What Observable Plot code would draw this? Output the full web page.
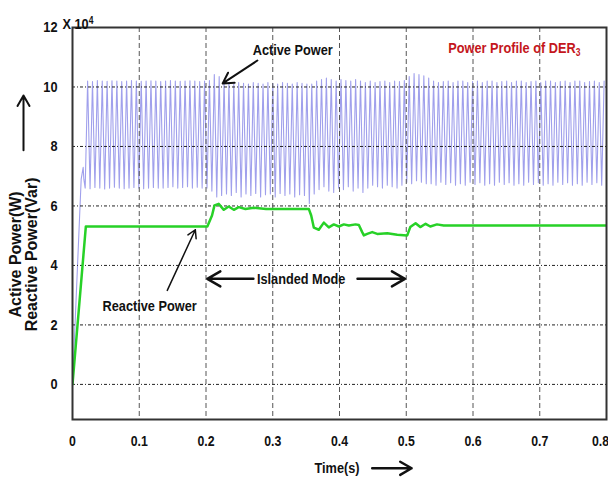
<!DOCTYPE html>
<html>
<head>
<meta charset="utf-8">
<script src="https://cdn.jsdelivr.net/npm/d3@7"></script>
<script src="https://cdn.jsdelivr.net/npm/@observablehq/plot@0.6"></script>
<style>
  html, body { margin: 0; padding: 0; background: #fff; }
  #chart { width: 608px; height: 484px; }
</style>
</head>
<body>
<div id="chart"></div>
<script>
// ---- data (×10^4) ----
const xTicks = [0, 0.1, 0.2, 0.3, 0.4, 0.5, 0.6, 0.7, 0.8];
const yTicks = [0, 2, 4, 6, 8, 10, 12];

// Active power: start-up ramp, then one trough + one peak per displayed cycle
const activeStartT = [0, 0.013, 0.016, 0.017];
const activeStartV = [0, 6.9, 7.3, 6.9];
const cycleStart = 0.019;
const cyclePeriod = 0.0073;
const activePeak = [
  10.2,10.18,10.22,10.2,10.19,10.21,10.2,10.18,10.2,10.22,10.2,10.19,10.2,10.21,10.2,10.18,10.2,10.22,10.2,10.19,10.2,10.21,10.2,10.18,10.2,
  10.22,10.42,10.35,10.2,
  10.15,10.1,10.15,10.12,10.1,10.15,10.12,10.1,10.15,10.12,10.1,10.15,10.12,10.1,10.15,10.12,10.1,
  10.1,10.2,
  10.25,10.3,10.25,10.2,10.25,10.22,10.2,10.25,10.2,
  10.15,10.2,10.15,10.18,10.2,10.15,10.2,10.18,10.22,
  10.35,10.45,10.42,10.38,10.3,
  10.2,10.15,10.18,10.2,10.15,10.2,10.2,10.15,10.18,10.2,10.15,10.2,
  10.2,10.15,10.18,10.2,10.15,10.2,10.2,10.15,10.18,10.2,10.15,10.2,
  10.2,10.15,10.18,10.2,10.15,10.2,10.2,10.15,10.18,10.2,10.15,10.2
];
const activeTrough = [
  6.6,6.58,6.62,6.6,6.57,6.6,6.63,6.6,6.58,6.6,6.62,6.6,6.58,6.6,6.62,6.6,6.6,6.62,6.65,6.6,6.62,6.65,6.6,6.63,6.6,
  6.6,6.5,6.3,6.35,
  6.4,6.35,6.45,6.3,6.4,6.35,6.42,6.3,6.38,6.4,6.3,6.42,6.35,6.4,6.3,6.38,6.35,
  6.08,6.4,
  6.55,6.65,6.5,6.45,6.6,6.55,6.65,6.5,6.6,
  6.45,6.6,6.7,6.65,6.6,6.7,6.65,6.6,6.7,
  6.8,6.75,6.85,6.8,6.75,
  6.75,6.7,6.8,6.72,6.78,6.7,6.75,6.7,6.8,6.72,6.78,6.7,
  6.75,6.7,6.8,6.72,6.78,6.7,6.75,6.7,6.8,6.72,6.78,6.7,
  6.75,6.7,6.8,6.72,6.78,6.7,6.75,6.7,6.8,6.72,6.78,6.7
];

// Reactive power
const reactiveT = [0, 0.02, 0.202, 0.209, 0.2127, 0.219, 0.2267, 0.234, 0.2417, 0.249, 0.259, 0.2716, 0.29, 0.32, 0.354,
  0.3576, 0.3616, 0.369, 0.3765, 0.384, 0.3915, 0.399, 0.4065, 0.414, 0.424, 0.429, 0.434, 0.4365, 0.4415, 0.449, 0.4565,
  0.4715, 0.4865, 0.5015, 0.506, 0.514, 0.521, 0.529, 0.536, 0.546, 0.556, 0.65, 0.8];
const reactiveV = [0, 5.31, 5.31, 5.68, 6.02, 6.07, 5.87, 5.98, 5.87, 5.96, 5.9, 5.94, 5.9, 5.9, 5.9,
  5.68, 5.27, 5.2, 5.44, 5.28, 5.38, 5.31, 5.38, 5.34, 5.38, 5.36, 5.12, 5.01, 5.06, 5.12, 5.06,
  5.08, 5.03, 5.01, 5.29, 5.42, 5.29, 5.4, 5.31, 5.38, 5.34, 5.34, 5.34];

// ---- build tables ----
const active = activeStartT.map((t, i) => ({t, v: activeStartV[i]}));
activePeak.forEach((p, i) => {
  active.push({t: cycleStart + i * cyclePeriod, v: activeTrough[i]});
  active.push({t: cycleStart + (i + 0.5) * cyclePeriod, v: p});
});
const reactive = reactiveT.map((t, i) => ({t, v: reactiveV[i]}));

const font = "'Liberation Sans',Arial,sans-serif";
const ann = {fontSize: 15, className: "ann"};

const plot = Plot.plot({
  width: 608,
  height: 484,
  marginLeft: 72,
  marginRight: 2,
  marginTop: 27,
  marginBottom: 65,
  style: {fontFamily: font, fontSize: "15px", fontWeight: "bold", color: "#111", background: "#fff"},
  x: {domain: [0, 0.8]},
  y: {domain: [-1.18, 12]},
  marks: [
    Plot.line(active, {x: "t", y: "v", stroke: "#a0a0ec", strokeWidth: 1.1, clip: true}),
    Plot.ruleY([0, 2, 4, 6, 8, 10], {stroke: "#222", strokeWidth: 1, strokeDasharray: "3,2,1,2"}),
    Plot.ruleX([0.1, 0.2, 0.3, 0.4, 0.5, 0.6, 0.7], {stroke: "#555", strokeWidth: 1, strokeDasharray: "5,3"}),
    Plot.line(reactive, {x: "t", y: "v", stroke: "#27d127", strokeWidth: 2.5, clip: true}),
    Plot.frame({stroke: "#333", strokeWidth: 2}),
    Plot.axisX(xTicks, {tickSize: 0, tickPadding: 16, tickFormat: d => d === 0 ? "0" : d3.format(".1f")(d), fontSize: 15, label: null, className: "xax"}),
    Plot.axisY(yTicks, {tickSize: 0, tickPadding: 15, fontSize: 15, label: null, className: "yax"}),
    // annotations
    Plot.text(["X 10"], {frameAnchor: "top-left", dx: -10, dy: -9, textAnchor: "start", fontSize: 15, className: "ann xten"}),
    Plot.text(["Active Power"], {x: [0.27], y: [11.23], textAnchor: "start", ...ann}),
    Plot.arrow([0], {x1: [0.277], y1: [10.89], x2: [0.225], y2: [10.12], stroke: "#111", strokeWidth: 2, headLength: 9}),
    Plot.text(["Power Profile of DER"], {x: [0.563], y: [11.29], textAnchor: "start", fill: "#c4161c", fontSize: 15, className: "ann der"}),
    Plot.text(["Reactive Power"], {x: [0.045], y: [2.64], textAnchor: "start", ...ann}),
    Plot.arrow([0], {x1: [0.142], y1: [3.16], x2: [0.184], y2: [5.2], stroke: "#111", strokeWidth: 1.5, headLength: 9}),
    Plot.text(["Islanded Mode"], {x: [0.3425], y: [3.55], textAnchor: "middle", ...ann}),
    Plot.arrow([0], {x1: [0.271], y1: [3.55], x2: [0.202], y2: [3.55], stroke: "#111", strokeWidth: 2.5, headLength: 9}),
    Plot.arrow([0], {x1: [0.427], y1: [3.55], x2: [0.498], y2: [3.55], stroke: "#111", strokeWidth: 2.5, headLength: 9}),
    Plot.text(["Time(s)"], {x: [0.3625], y: [-2.82], textAnchor: "start", ...ann}),
    Plot.arrow([0], {x1: [0.449], y1: [-2.82], x2: [0.508], y2: [-2.82], stroke: "#111", strokeWidth: 2.5, headLength: 9}),
    Plot.text(["Active Power(W)"], {x: [-0.0854], y: [4.37], rotate: -90, textAnchor: "middle", lineAnchor: "middle", fontSize: 16}),
    Plot.text(["Reactive Power(Var)"], {x: [-0.0614], y: [4.37], rotate: -90, textAnchor: "middle", lineAnchor: "middle", fontSize: 16}),
    Plot.arrow([0], {x1: [-0.0734], y1: [7.87], x2: [-0.0734], y2: [9.71], stroke: "#111", strokeWidth: 2, headLength: 9})
  ]
});

document.getElementById("chart").appendChild(plot);

// superscript / subscript pieces
const xten = plot.querySelector(".xten text");
if (xten) d3.select(xten).append("tspan").attr("dy", "-0.5em").attr("font-size", 10).text("4");
const der = plot.querySelector(".der text");
if (der) d3.select(der).append("tspan").attr("dy", "0.3em").attr("font-size", 10).text("3");

// condensed (Arial Narrow-like) look: squeeze glyphs horizontally about their anchor
function squeeze(sel, k) {
  plot.querySelectorAll(sel).forEach(t => {
    const tr = t.getAttribute("transform");
    if (tr) t.setAttribute("transform", tr + ` scale(${k},1)`);
    else {
      const x = +t.getAttribute("x") || 0, y = +t.getAttribute("y") || 0;
      t.setAttribute("transform", `translate(${x},${y}) scale(${k},1) translate(${-x},${-y})`);
    }
  });
}
squeeze(".xax text", 0.82);
squeeze(".yax text", 0.85);
squeeze(".ann text", 0.85);
// last x tick label sits against the right edge
const xl = plot.querySelectorAll(".xax text");
if (xl.length) {
  const last = xl[xl.length - 1];
  last.setAttribute("transform", "translate(-6,0) " + last.getAttribute("transform"));
}
</script>
</body>
</html>
